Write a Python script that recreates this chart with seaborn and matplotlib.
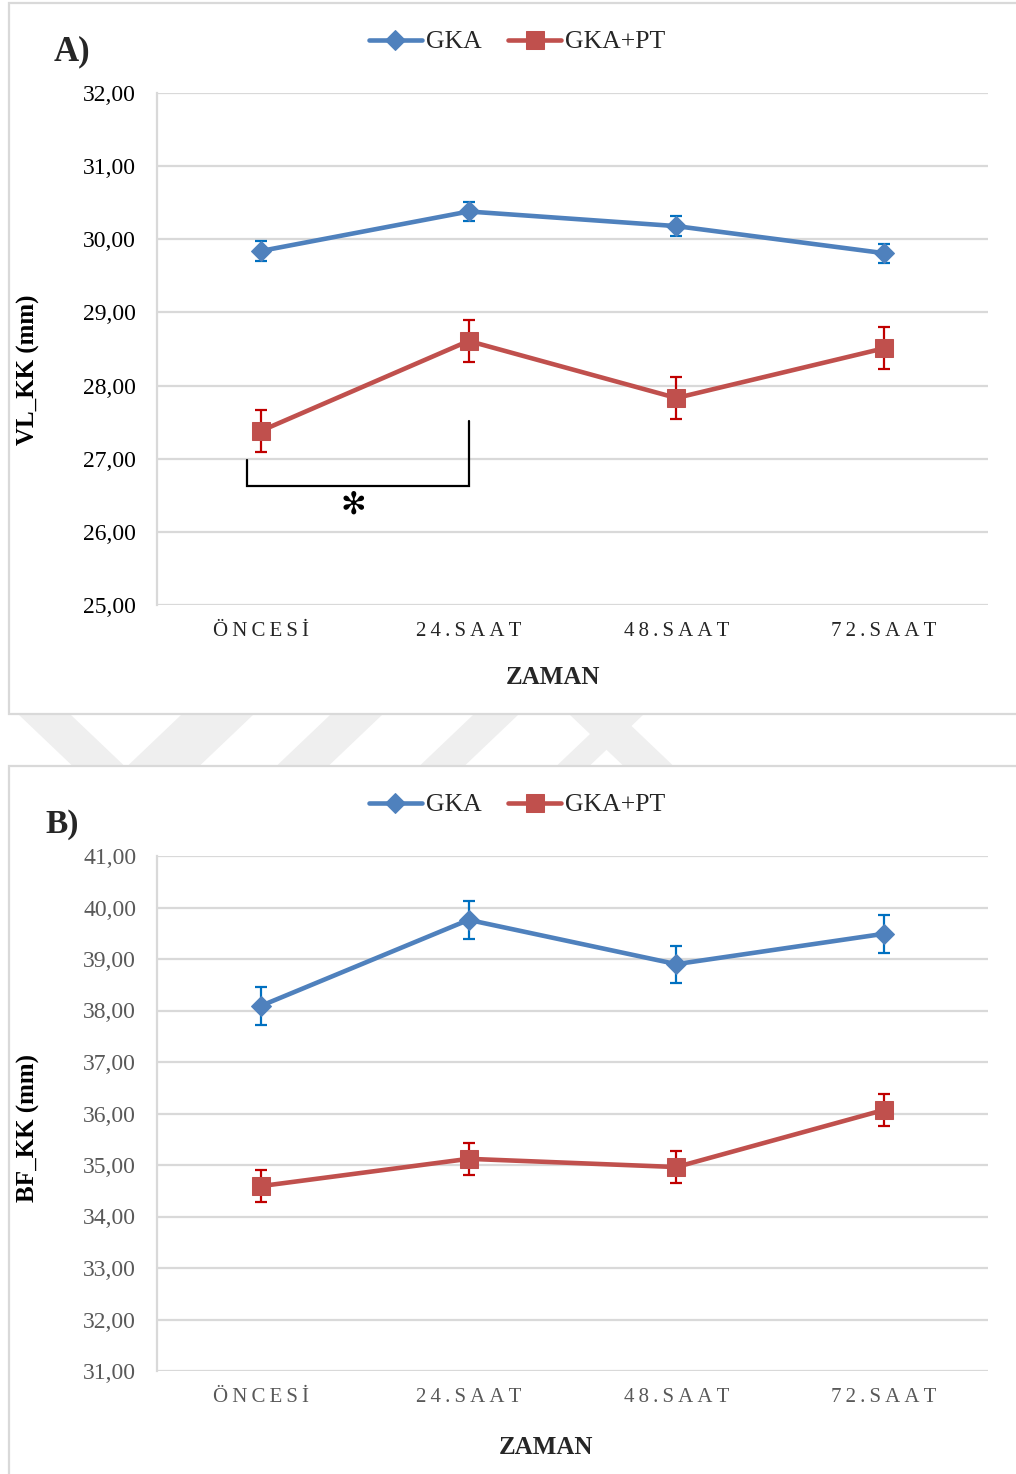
import matplotlib
matplotlib.use("Agg")
import matplotlib.pyplot as plt
import numpy as np
import pandas as pd
import seaborn as sns
from matplotlib.patches import Rectangle, Polygon

# Zaman noktaları ve gruplar
zaman = ["ÖNCESİ", "24.SAAT", "48.SAAT", "72.SAAT"]
gruplar = ["GKA", "GKA+PT"]

# A) VL_KK ortalamaları ve standart hataları (mm)
vl_gka = [29.84, 30.38, 30.18, 29.81]
vl_gka_se = [0.14, 0.13, 0.14, 0.13]
vl_gkapt = [27.38, 28.61, 27.83, 28.51]
vl_gkapt_se = [0.29, 0.29, 0.29, 0.29]

# B) BF_KK ortalamaları ve standart hataları (mm)
bf_gka = [38.09, 39.76, 38.90, 39.49]
bf_gka_se = [0.37, 0.37, 0.36, 0.37]
bf_gkapt = [34.59, 35.12, 34.96, 36.07]
bf_gkapt_se = [0.31, 0.31, 0.31, 0.31]

vl_ticks = [25, 26, 27, 28, 29, 30, 31, 32]
bf_ticks = [31, 32, 33, 34, 35, 36, 37, 38, 39, 40, 41]

sns.set_theme(style="white")
plt.rcParams["font.family"] = ["Liberation Serif", "DejaVu Serif", "DejaVu Sans"]

W, H = 1016, 1474
fig = plt.figure(figsize=(W / 100, H / 100), dpi=100)
fig.patch.set_facecolor("white")


def fx(px):
    return px / W


def fy(py):
    return 1 - py / H


# faint background stripes in the gap between the two panels
k = 1.05
stripes = [("\\", 19, 71), ("/", 181, 253), ("/", 330, 382), ("/", 473, 518),
           ("/", 610, 643), ("\\", 570, 620)]
y0, y1 = 705, 775
for kind, a, b in stripes:
    s = k if kind == "\\" else -k
    pts = [(a + s * (y0 - 715), y0), (b + s * (y0 - 715), y0),
           (b + s * (y1 - 715), y1), (a + s * (y1 - 715), y1)]
    fig.patches.append(Polygon([(fx(x), fy(y)) for x, y in pts], closed=True,
                               transform=fig.transFigure, facecolor="#efefef",
                               edgecolor="none", zorder=-3))

# panel frames
for top, bottom in [(3, 714), (766, 1490)]:
    fig.patches.append(Rectangle((fx(9), fy(bottom)), 1.02, fy(top) - fy(bottom),
                                 transform=fig.transFigure,
                                 facecolor="white", edgecolor="#d9d9d9",
                                 linewidth=1.6, zorder=-2))

BLUE, BLUE_ERR = "#4F81BD", "#0070C0"
RED, RED_ERR = "#C0504D", "#C00000"
GRID = "#d9d9d9"


def spaced(s):
    return "\u2009".join(s)


def draw_panel(ax, gka, gka_se, pt, pt_se, yticks, ylabel, ytick_color,
               xtick_color, ylabel_y):
    pos = np.arange(len(zaman))
    df = pd.DataFrame({"pos": np.concatenate([pos, pos]),
                       "deger": list(gka) + list(pt),
                       "grup": [gruplar[0]] * len(zaman) + [gruplar[1]] * len(zaman)})

    ax.errorbar(pos, gka, yerr=gka_se, fmt="none", ecolor=BLUE_ERR,
                elinewidth=1.6, capsize=4.3, capthick=1.6, zorder=2)
    ax.errorbar(pos, pt, yerr=pt_se, fmt="none", ecolor=RED_ERR,
                elinewidth=1.6, capsize=4.3, capthick=1.6, zorder=2)

    sns.lineplot(data=df[df.grup == gruplar[0]], x="pos", y="deger", ax=ax,
                 color=BLUE, marker="D", markersize=10.5, markeredgecolor=BLUE,
                 linewidth=3.3, label=gruplar[0], legend=False, zorder=3)
    sns.lineplot(data=df[df.grup == gruplar[1]], x="pos", y="deger", ax=ax,
                 color=RED, marker="s", markersize=13, markeredgecolor=RED,
                 linewidth=3.3, label=gruplar[1], legend=False, zorder=3)

    ax.set_facecolor("none")
    ax.set_xlim(-0.5, len(zaman) - 0.5)
    ax.set_ylim(yticks[0], yticks[-1])
    ax.set_yticks(yticks)
    ax.set_yticklabels([f"{v:.2f}".replace(".", ",") for v in yticks],
                       fontsize=17, color=ytick_color)
    ax.set_xticks(pos)
    ax.set_xticklabels([spaced(z) for z in zaman], fontsize=15,
                       color=xtick_color)
    ax.tick_params(axis="y", length=0, pad=15)
    ax.tick_params(axis="x", length=0, pad=12)
    ax.grid(axis="y", color=GRID, linewidth=1.6)
    ax.grid(axis="x", visible=False)
    for side in ["top", "right", "bottom"]:
        ax.spines[side].set_visible(False)
    ax.spines["left"].set_color(GRID)
    ax.spines["left"].set_linewidth(1.6)
    ax.set_xlabel("")
    ax.set_ylabel(ylabel, fontsize=18, fontweight="bold", color="black")
    ax.yaxis.set_label_coords(-0.141, ylabel_y)


# A) panel
axA = fig.add_axes([fx(157), fy(605), fx(988) - fx(157), fy(93) - fy(605)])
draw_panel(axA, vl_gka, vl_gka_se, vl_gkapt, vl_gkapt_se, vl_ticks,
           "VL_KK (mm)", "black", "#262626", 0.459)

# significance bracket between ÖNCESİ and 24.SAAT
axA.plot([-0.067, -0.067, 1.0, 1.0], [26.98, 26.63, 26.63, 27.52],
         color="black", linewidth=1.6, zorder=4, solid_joinstyle="miter")
axA.text(0.443, 26.37, "\u273B", ha="center", va="center", fontsize=22,
         fontweight="bold", family=["DejaVu Sans"], color="black")

# B) panel
axB = fig.add_axes([fx(157), fy(1371), fx(988) - fx(157), fy(856) - fy(1371)])
draw_panel(axB, bf_gka, bf_gka_se, bf_gkapt, bf_gkapt_se, bf_ticks,
           "BF_KK (mm)", "#595959", "#595959", 0.472)

# legends
for ax, ly in [(axA, 42), (axB, 805)]:
    handles, labels = ax.get_legend_handles_labels()
    fig.legend(handles, labels, loc="center", bbox_to_anchor=(fx(517), fy(ly)),
               ncol=2, frameon=False, fontsize=18.5, handlelength=2.05,
               handletextpad=0.15, columnspacing=1.05, borderpad=0)

# panel titles and time axis titles
fig.text(fx(72), fy(52), "A)", ha="center", va="center", fontsize=25,
         fontweight="bold")
fig.text(fx(62), fy(824), "B)", ha="center", va="center", fontsize=24,
         fontweight="bold")
fig.text(fx(553), fy(677), "ZAMAN", ha="center", va="center", fontsize=18,
         fontweight="bold")
fig.text(fx(546), fy(1447), "ZAMAN", ha="center", va="center", fontsize=18,
         fontweight="bold")

fig.savefig("out.png", dpi=100)
